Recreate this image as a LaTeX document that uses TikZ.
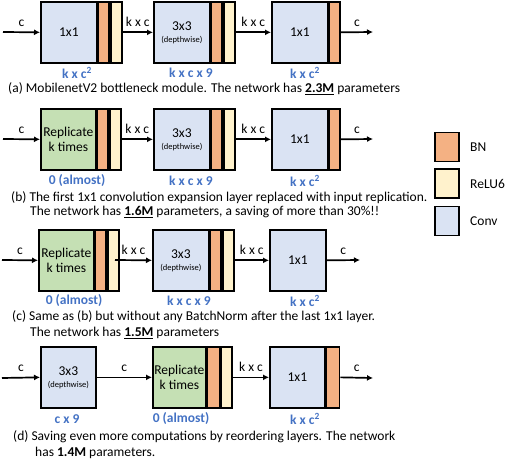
\documentclass[tikz,border=0pt]{standalone}
\usepackage{fontspec}
\setmainfont{Carlito}
\usetikzlibrary{arrows.meta}
\definecolor{convc}{HTML}{DAE3F3}
\definecolor{repc}{HTML}{C5E0B4}
\definecolor{bnc}{HTML}{F4B183}
\definecolor{reluc}{HTML}{FFF2CC}
\definecolor{labc}{HTML}{4472C4}
\tikzset{
  x=1pt,y=-1pt,
  blk/.style={draw=black,line width=1.7pt,inner sep=0pt,anchor=north west,minimum height=61pt,font=\fontsize{13.5}{15}\selectfont,align=center},
  conv/.style={blk,fill=convc,minimum width=56pt},
  rep/.style={blk,fill=repc,minimum width=55pt},
  bn/.style={blk,fill=bnc,minimum width=10.5pt},
  relu/.style={blk,fill=reluc,minimum width=11pt},
  arr/.style={line width=1.7pt,-{Latex[length=6pt,width=6pt]}},
  dim/.style={font=\fontsize{13.5}{15}\selectfont,above=1.5pt},
  cost/.style={font=\bfseries\fontsize{13.5}{15}\selectfont,text=labc},
  captxt/.style={font=\fontsize{13.5}{15}\selectfont,anchor=west,inner sep=0pt},
  leg/.style={draw=black,line width=1.7pt,minimum width=24pt,minimum height=29pt,inner sep=0pt},
  legt/.style={font=\fontsize{13.5}{15}\selectfont,anchor=west,inner sep=0pt}
}
\newcommand{\dw}{\\[-3pt]{\fontsize{8.5}{9}\selectfont(depthwise)}}
\begin{document}
\begin{tikzpicture}
\useasboundingbox (0,0) rectangle (512,468);
% ---------- row a ----------
\coordinate (ain) at (3,32);
\node[conv] (a1) at (40,1) {1x1};
\node[bn] (a1b) at (a1.north east) {};
\node[relu] (a1r) at (a1b.north east) {};
\node[conv] (a2) at (153,1) {3x3\dw};
\node[bn] (a2b) at (a2.north east) {};
\node[relu] (a2r) at (a2b.north east) {};
\node[conv] (a3) at (271,1) {1x1};
\node[bn] (a3b) at (a3.north east) {};
\coordinate (aout) at (373,32);
\draw[arr] (ain) -- node[dim]{c} (a1.west);
\draw[arr] (a1r.east) -- node[dim]{k x c} (a2.west);
\draw[arr] (a2r.east) -- node[dim]{k x c} (a3.west);
\draw[arr] (a3b.east) -- node[dim]{c} (aout);
\node[cost] (ac1) at (77,73) {k x c\textsuperscript{2}};
\node[cost] (ac2) at (191,73) {k x c x 9};
\node[cost] (ac3) at (305,73) {k x c\textsuperscript{2}};
\node[captxt] (acap) at (8,89) {(a) MobilenetV2 bottleneck module. The network has \textbf{\underline{2.3M}} parameters};
% ---------- row b ----------
\coordinate (bin) at (3,139);
\node[rep] (b1) at (40,108) {Replicate\\k times};
\node[bn] (b1b) at (b1.north east) {};
\node[relu] (b1r) at (b1b.north east) {};
\node[conv] (b2) at (153,108) {3x3\dw};
\node[bn] (b2b) at (b2.north east) {};
\node[relu] (b2r) at (b2b.north east) {};
\node[conv] (b3) at (271,108) {1x1};
\node[bn] (b3b) at (b3.north east) {};
\coordinate (bout) at (373,139);
\draw[arr] (bin) -- node[dim]{c} (b1.west);
\draw[arr] (b1r.east) -- node[dim]{k x c} (b2.west);
\draw[arr] (b2r.east) -- node[dim]{k x c} (b3.west);
\draw[arr] (b3b.east) -- node[dim]{c} (bout);
\node[cost] (bc1) at (77,181) {0 (almost)};
\node[cost] (bc2) at (191,181) {k x c x 9};
\node[cost] (bc3) at (305,181) {k x c\textsuperscript{2}};
\node[captxt] (bcap1) at (11,198) {(b) The first 1x1 convolution expansion layer replaced with input replication.};
\node[captxt] (bcap2) at (30,212) {The network has \textbf{\underline{1.6M}} parameters, a saving of more than 30\%!!};
% ---------- legend ----------
\node[leg,fill=bnc] (l1) at (447,147) {};
\node[leg,fill=reluc] (l2) at (447,183.5) {};
\node[leg,fill=convc] (l3) at (447,221) {};
\node[legt] (l1t) at (470,147) {BN};
\node[legt] (l2t) at (470,183.5) {ReLU6};
\node[legt] (l3t) at (470,221) {Conv};
% ---------- row c ----------
\coordinate (cin) at (2,260);
\node[rep] (c1) at (38,229) {Replicate\\k times};
\node[bn] (c1b) at (c1.north east) {};
\node[relu] (c1r) at (c1b.north east) {};
\node[conv] (c2) at (152,229) {3x3\dw};
\node[bn] (c2b) at (c2.north east) {};
\node[relu] (c2r) at (c2b.north east) {};
\node[conv] (c3) at (269,229) {1x1};
\coordinate (cout) at (360,260);
\coordinate (c1e) at (115,260);
\draw[arr] (cin) -- node[dim]{c} (c1.west);
\draw[arr] (c1e) -- node[dim]{k x c} (c2.west);
\draw[arr] (c2r.east) -- node[dim]{k x c} (c3.west);
\draw[arr] (c3.east) -- node[dim]{c} (cout);
\node[cost] (cc1) at (74,301) {0 (almost)};
\node[cost] (cc2) at (189,301) {k x c x 9};
\node[cost] (cc3) at (305,301) {k x c\textsuperscript{2}};
\node[captxt] (ccap1) at (12,317) {(c) Same as (b) but without any BatchNorm after the last 1x1 layer.};
\node[captxt] (ccap2) at (30,333) {The network has \textbf{\underline{1.5M}} parameters};
% ---------- row d ----------
\coordinate (din) at (2,378);
\node[conv,minimum width=55pt] (d1) at (40,346) {3x3\dw};
\node[rep,minimum width=53pt] (d2) at (152,346) {Replicate\\k times};
\node[bn,minimum width=12pt] (d2b) at (d2.north east) {};
\node[relu] (d2r) at (d2b.north east) {};
\node[conv,minimum width=55pt] (d3) at (269,346) {1x1};
\node[bn,minimum width=13pt] (d3b) at (d3.north east) {};
\coordinate (dout) at (373,378);
\draw[arr] (din) -- node[dim]{c} (d1.west);
\draw[arr] (d1.east) -- node[dim]{c} (d2.west);
\draw[arr] (d2r.east) -- node[dim]{k x c} (d3.west);
\draw[arr] (d3b.east) -- node[dim]{c} (dout);
\node[cost] (dc1) at (67,419) {c x 9};
\node[cost] (dc2) at (181,419) {0 (almost)};
\node[cost] (dc3) at (305,419) {k x c\textsuperscript{2}};
\node[captxt] (dcap1) at (13,437) {(d) Saving even more computations by reordering layers. The network};
\node[captxt] (dcap2) at (35,453) {has \textbf{1.4M} parameters.};
\end{tikzpicture}
\end{document}
